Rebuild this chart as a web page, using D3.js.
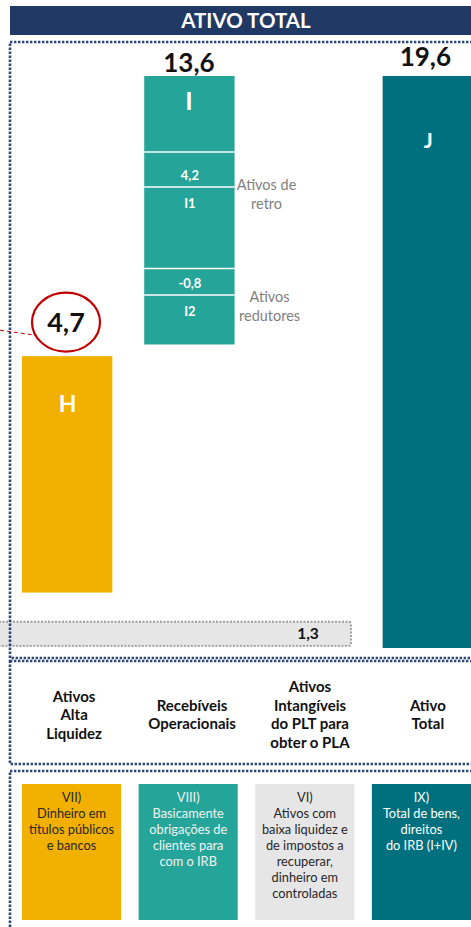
<!doctype html>
<html lang="pt">
<head>
  <meta charset="utf-8">
  <title>ativo total</title>
  <style>
    * { margin: 0; padding: 0; box-sizing: border-box; }
    body { background: #fff; }
    svg { display: block; font-family: Lato, "Open Sans", sans-serif; }
  </style>
</head>
<body>
  <div class="chart"></div>
  <script src="https://cdn.jsdelivr.net/npm/d3@7"></script>
  <script>
    // ---------------------------------------------------------------
    //@@ data
    const title = 'ATIVO TOTAL';
    const categories = ['Ativos Alta Liquidez', 'Recebíveis Operacionais', 'Ativos Intangíveis do PLT para obter o PLA', 'Ativo Total'];
    const categoryLines = [['Ativos', 'Alta', 'Liquidez'], ['Recebíveis', 'Operacionais'], ['Ativos', 'Intangíveis', 'do PLT para', 'obter o PLA'], ['Ativo', 'Total']];

    // floating bars (schematic units; J spans 0 -> 19.6)
    const barNames = ['H', 'I', 'J'];
    const barCats = [categories[0], categories[1], categories[3]];
    const barValues = ['4,7', '13,6', '19,6'];
    const barLow = [1.9, 10.4, 0];
    const barHigh = [10.0, 19.6, 19.6];

    // breakdown inside bar I
    const iBreaks = [17.0, 15.8, 13.0, 12.1];
    const iSubValues = ['4,2', '-0,8'];
    const iSubNames = ['I1', 'I2'];
    const iSubNotes = [['Ativos de', 'retro'], ['Ativos', 'redutores']];

    // intangible strip at the bottom
    const stripValue = '1,3';
    const stripLow = 0.07;
    const stripHigh = 0.9;

    const descLines = [
      ['VII)', 'Dinheiro em', 'títulos públicos', 'e bancos'],
      ['VIII)', 'Basicamente', 'obrigações de', 'clientes para', 'com o IRB'],
      ['VI)', 'Ativos com', 'baixa liquidez e', 'de impostos a', 'recuperar,', 'dinheiro em', 'controladas'],
      ['IX)', 'Total de bens,', 'direitos', 'do IRB (I+IV)']
    ];

    // ---------------------------------------------------------------
    //@@ config
    const W = 471, H = 927;
    const colors = ['#F2B000', '#25A59A', '#E6E6E6', '#006F7E'];
    const barColor = {H: colors[0], I: colors[1], J: colors[3]};
    const descText = ['#262626', '#F2F2F2', '#262626', '#FFFFFF'];
    const navy = '#203864';
    const frameCol = '#2B4679';

    const svg = d3.select('.chart').append('svg')
      .attr('width', W).attr('height', H);

    //@@ scales
    const y = d3.scaleLinear().domain([0, 19.6]).range([648, 76]);
    const xBar = d3.scaleBand().domain(categories).range([22, 474]).paddingInner(0.24);
    const xDesc = d3.scaleBand().domain(categories).range([22, 471]).paddingInner(0.15);
    const xLab = d3.scaleBand().domain(categories).range([24, 478]).paddingInner(0.15);

    //@@ header
    svg.append('rect')
      .attr('x', 10).attr('y', 6).attr('width', W).attr('height', 29)
      .attr('fill', navy);
    svg.append('text')
      .attr('x', 246).attr('y', 28)
      .attr('text-anchor', 'middle')
      .attr('fill', '#fff').attr('font-weight', 700).attr('font-size', 20.5)
      .text(title);

    //@@ grey strip (1,3)
    svg.append('rect')
      .attr('x', -10).attr('y', y(stripHigh))
      .attr('width', 361).attr('height', y(stripLow) - y(stripHigh))
      .attr('rx', 2)
      .attr('fill', colors[2])
      .attr('stroke', '#9A9A9A').attr('stroke-width', 1.8)
      .attr('stroke-dasharray', '2 1.5');
    svg.append('text')
      .attr('x', 308).attr('y', (y(stripHigh) + y(stripLow)) / 2 + 5.5)
      .attr('text-anchor', 'middle')
      .attr('font-weight', 700).attr('font-size', 15.5).attr('fill', '#111')
      .text(stripValue);

    //@@ bars
    const bars = barNames.map((n, i) => ({name: n, cat: barCats[i], value: barValues[i], lo: barLow[i], hi: barHigh[i]}));
    const barW = xBar.bandwidth();

    svg.append('g').selectAll('rect')
      .data(bars).enter().append('rect')
      .attr('x', d => xBar(d.cat) + (d.name === 'I' ? 2 : 0))
      .attr('y', d => y(d.hi))
      .attr('width', barW - 1)
      .attr('height', d => y(d.lo) - y(d.hi))
      .attr('fill', d => barColor[d.name]);

    // letters inside bars
    const letterDy = {H: 56, I: 34, J: 72};
    const letterSize = {H: 23, I: 25, J: 21};
    svg.append('g').selectAll('text')
      .data(bars).enter().append('text')
      .attr('x', d => xBar(d.cat) + barW / 2 + (d.name === 'I' ? 1 : 0))
      .attr('y', d => y(d.hi) + letterDy[d.name])
      .attr('text-anchor', 'middle')
      .attr('fill', '#fff').attr('font-weight', 700)
      .attr('font-size', d => letterSize[d.name])
      .text(d => d.name);

    // totals above I and J
    const totDy = {I: -4, J: -10};
    svg.append('g').selectAll('text')
      .data(bars.filter(d => d.name !== 'H')).enter().append('text')
      .attr('x', d => xBar(d.cat) + barW / 2 - (d.name === 'J' ? 3 : -1))
      .attr('y', d => y(d.hi) + totDy[d.name])
      .attr('text-anchor', 'middle')
      .attr('fill', '#111').attr('font-weight', 700).attr('font-size', 26)
      .text(d => d.value);

    //@@ circled value over H
    const hb = bars[0];
    const cx = 66, cy = y(hb.hi) - 34;
    svg.append('line')
      .attr('x1', 0).attr('y1', cy + 8).attr('x2', cx - 31).attr('y2', cy + 13)
      .attr('stroke', '#C00000').attr('stroke-width', 1).attr('stroke-dasharray', '4 3');
    svg.append('ellipse')
      .attr('cx', cx).attr('cy', cy).attr('rx', 34).attr('ry', 29.5)
      .attr('fill', '#fff').attr('stroke', '#C00000').attr('stroke-width', 2.2);
    svg.append('text')
      .attr('x', cx).attr('y', cy + 10)
      .attr('text-anchor', 'middle')
      .attr('fill', '#111').attr('font-weight', 700).attr('font-size', 27)
      .text(hb.value);

    //@@ breakdown of I
    const ib = bars[1];
    const ix = xBar(ib.cat) + 2;
    svg.append('g').selectAll('line')
      .data(iBreaks).enter().append('line')
      .attr('x1', ix).attr('x2', ix + barW - 1)
      .attr('y1', d => y(d)).attr('y2', d => y(d))
      .attr('stroke', '#fff').attr('stroke-width', 1.5);

    iSubValues.forEach((v, k) => {
      const top = y(iBreaks[k * 2]), mid = y(iBreaks[k * 2 + 1]);
      svg.append('text')
        .attr('x', ix + barW / 2).attr('y', mid - 7)
        .attr('text-anchor', 'middle')
        .attr('fill', '#fff').attr('font-weight', 700).attr('font-size', 13)
        .text(v);
      svg.append('text')
        .attr('x', ix + barW / 2).attr('y', mid + 21)
        .attr('text-anchor', 'middle')
        .attr('fill', '#fff').attr('font-weight', 700).attr('font-size', 13)
        .text(iSubNames[k]);
      svg.append('text')
        .attr('text-anchor', 'middle')
        .attr('fill', '#808080').attr('font-size', 14.5)
        .selectAll('tspan')
        .data(iSubNotes[k]).enter().append('tspan')
        .attr('x', ix + barW + 31 + k * 3)
        .attr('y', (d, j) => (top + mid) / 2 + 20.5 + j * 19)
        .text(d => d);
    });

    //@@ frames
    const dotted = sel => sel
      .attr('fill', 'none').attr('stroke', frameCol)
      .attr('stroke-width', 2.6).attr('stroke-dasharray', '2.4 1.6');
    svg.append('rect').attr('x', 10).attr('y', 42).attr('width', 480).attr('height', 616).call(dotted);
    svg.append('rect').attr('x', 10).attr('y', 661).attr('width', 480).attr('height', 103).call(dotted);
    svg.append('rect').attr('x', 10).attr('y', 771).attr('width', 480).attr('height', 200).call(dotted);

    //@@ category labels
    const labs = svg.append('g').selectAll('text')
      .data(categories).enter().append('text')
      .attr('text-anchor', 'middle')
      .attr('fill', '#111').attr('font-weight', 700).attr('font-size', 15);
    labs.each(function(c, i) {
      const lines = categoryLines[i];
      const cxl = xLab(c) + xLab.bandwidth() / 2;
      d3.select(this).selectAll('tspan')
        .data(lines).enter().append('tspan')
        .attr('x', cxl)
        .attr('y', (d, j) => 720 + (j - (lines.length - 1) / 2) * 18.5)
        .text(d => d);
    });

    //@@ description boxes
    const desc = svg.append('g').selectAll('g')
      .data(categories).enter().append('g');
    desc.append('rect')
      .attr('x', d => xDesc(d)).attr('y', 784)
      .attr('width', xDesc.bandwidth()).attr('height', 136)
      .attr('fill', (d, i) => colors[i]);
    desc.append('text')
      .attr('text-anchor', 'middle')
      .attr('font-size', 12.8)
      .attr('fill', (d, i) => descText[i])
      .each(function(c, i) {
        d3.select(this).selectAll('tspan')
          .data(descLines[i]).enter().append('tspan')
          .attr('x', xDesc(c) + xDesc.bandwidth() / 2)
          .attr('y', (d, j) => 802 + j * 16)
          .text(d => d);
      });
  </script>
</body>
</html>
